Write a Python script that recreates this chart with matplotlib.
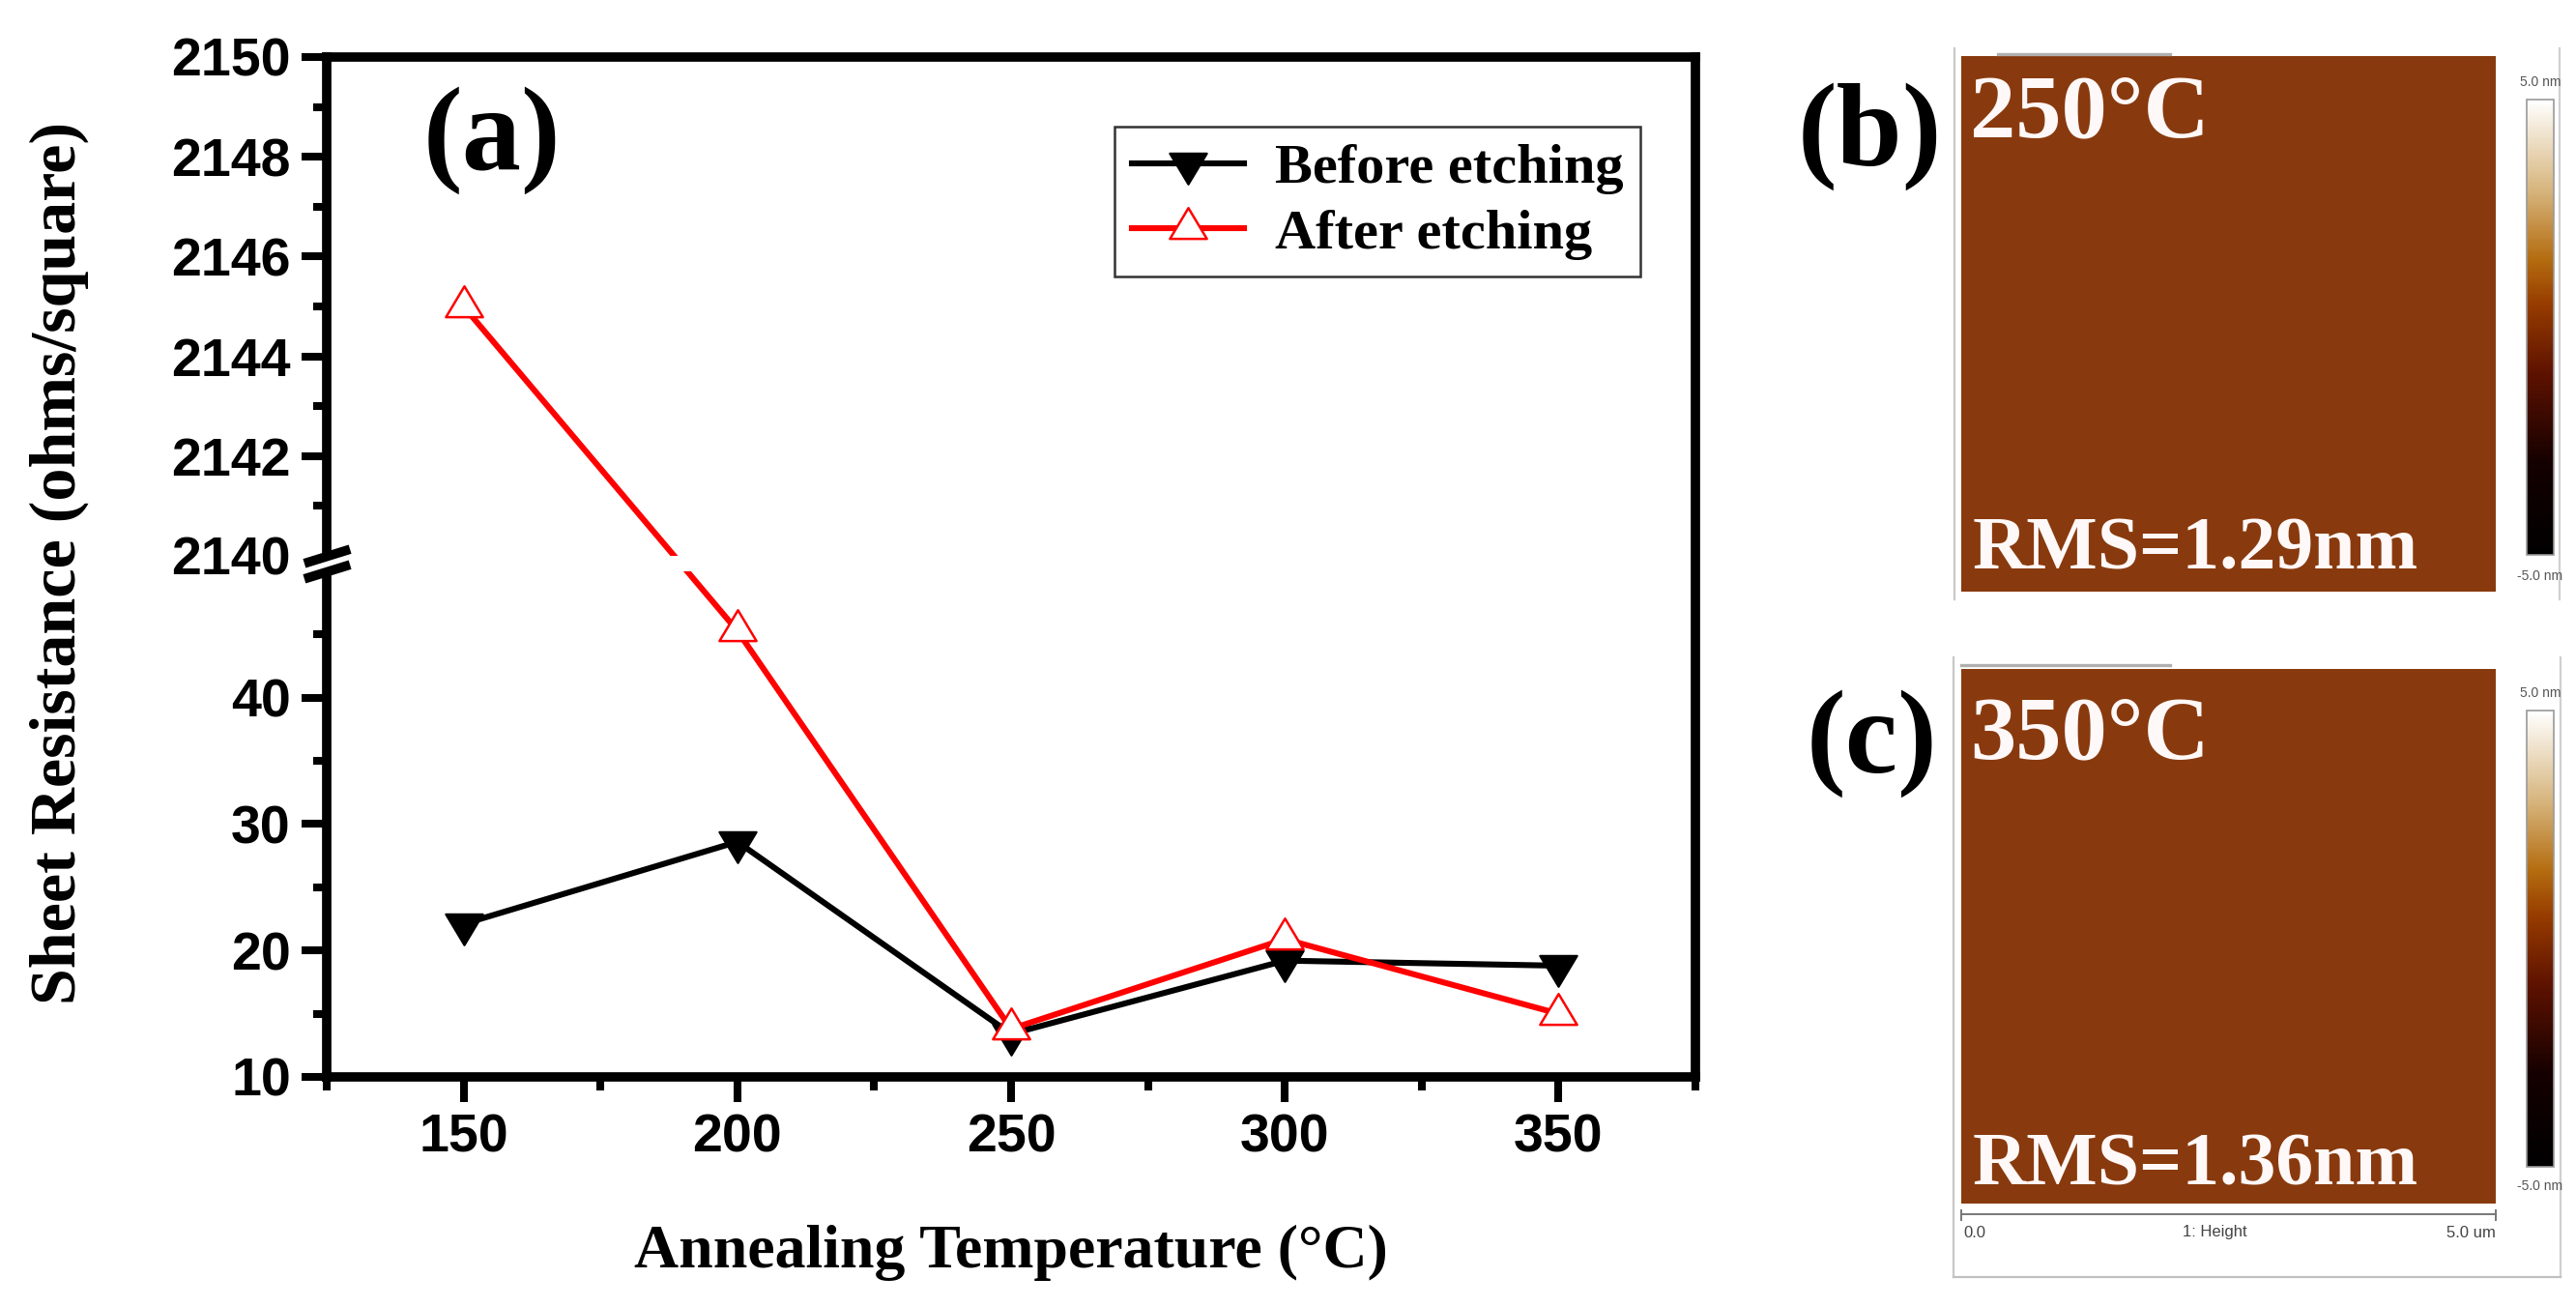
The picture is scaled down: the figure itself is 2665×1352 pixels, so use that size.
import numpy as np
import matplotlib
matplotlib.use("Agg")
import matplotlib.pyplot as plt
from matplotlib.path import Path
from matplotlib.patches import Rectangle
from matplotlib.lines import Line2D
from matplotlib.colors import LinearSegmentedColormap, Normalize
from matplotlib.cm import ScalarMappable

# ---------------- data ----------------
temperatures = [150, 200, 250, 300, 350]
before_etching = [22.1, 28.6, 13.4, 19.2, 18.8]
after_etching = [2145.0, 45.3, 13.8, 20.9, 15.0]
series_labels = ["Before etching", "After etching"]
x_ticks = [150, 200, 250, 300, 350]
x_minor = [125, 175, 225, 275, 325, 375]
y_ticks = [10, 20, 30, 40, 2140, 2142, 2144, 2146, 2148, 2150]
y_minor = [15, 25, 35, 45, 2141, 2143, 2145, 2147, 2149]
afm_panels = ["(b)", "(c)"]
afm_temps = ["250°C", "350°C"]
afm_rms = ["RMS=1.29nm", "RMS=1.36nm"]

# ---------------- figure ----------------
W, H, DPI = 2665, 1352, 200
fig = plt.figure(figsize=(W / DPI, H / DPI), dpi=DPI)
fig.patch.set_facecolor("white")

def rect(l, t, r, b):
    return [l / W, 1 - b / H, (r - l) / W, (b - t) / H]

def fx(x):
    return x / W

def fy(y):
    return 1 - y / H

SERIF = ["Liberation Serif", "DejaVu Serif"]
SANS = ["Liberation Sans", "DejaVu Sans"]

# broken y axis: 10..50 and 2140..2150 on one axes through a piecewise scale
LOW_TOP, HIGH_BOT = 50.0, 2140.0
GAP = 1.224
K = 3.946

def fwd(y):
    y = np.asarray(y, dtype=float)
    return np.where(y <= LOW_TOP, y,
                    np.where(y >= HIGH_BOT, LOW_TOP + GAP + (y - HIGH_BOT) * K,
                             LOW_TOP + (y - LOW_TOP) * GAP / (HIGH_BOT - LOW_TOP)))

def inv(t):
    t = np.asarray(t, dtype=float)
    return np.where(t <= LOW_TOP, t,
                    np.where(t >= LOW_TOP + GAP, HIGH_BOT + (t - LOW_TOP - GAP) / K,
                             LOW_TOP + (t - LOW_TOP) * (HIGH_BOT - LOW_TOP) / GAP))

ax = fig.add_axes(rect(338, 59, 1754, 1114))
ax.set_yscale("function", functions=(fwd, inv))
ax.set_xlim(125, 375)
ax.set_ylim(10, 2150)

# triangle markers centred on their centroid (like Origin)
up_tri = Path([(0, 2 / 3), (-0.6, -1 / 3), (0.6, -1 / 3), (0, 2 / 3)],
              [Path.MOVETO, Path.LINETO, Path.LINETO, Path.CLOSEPOLY])
down_tri = Path([(0, -2 / 3), (-0.6, 1 / 3), (0.6, 1 / 3), (0, -2 / 3)],
                [Path.MOVETO, Path.LINETO, Path.LINETO, Path.CLOSEPOLY])

l1, = ax.plot(temperatures, before_etching, color="black", lw=2.2,
              marker=down_tri, ms=15.3, mfc="black", mec="black", mew=0.8,
              zorder=2, label=series_labels[0])
l2, = ax.plot(temperatures, after_etching, color="#ff0000", lw=2.2,
              marker=up_tri, ms=15.3, mfc="white", mec="#ff0000", mew=0.9,
              zorder=2.1, label=series_labels[1])

# white band through the break
ax.axhspan(LOW_TOP, HIGH_BOT, color="white", zorder=2.3, lw=0)

for s in ax.spines.values():
    s.set_linewidth(3.5)
    s.set_zorder(2.5)

ax.set_xticks(x_ticks)
ax.set_xticks(x_minor, minor=True)
ax.set_yticks(y_ticks)
ax.set_yticks(y_minor, minor=True)
ax.set_yticklabels([str(v) for v in y_ticks])
ax.tick_params(axis="both", which="major", direction="out", length=9.4, width=2.9,
               pad=4.0, labelsize=20, top=False, right=False)
ax.tick_params(axis="both", which="minor", direction="out", length=5.0, width=2.9,
               top=False, right=False)
for lab in ax.get_xticklabels() + ax.get_yticklabels():
    lab.set_family(SANS)
    lab.set_fontweight("bold")
# hide tick line at 2140 (break marks there)
for t in ax.yaxis.get_major_ticks():
    if abs(t.get_loc() - 2140) < 1e-6:
        t.tick1line.set_visible(False)

# gap in left spine + break marks
ax.add_patch(Rectangle((-0.02, LOW_TOP), 0.035, HIGH_BOT - LOW_TOP,
                       transform=ax.get_yaxis_transform(), facecolor="white",
                       edgecolor="none", zorder=3, clip_on=False))
slash = Path([(-1, -0.31), (1, 0.31)], [Path.MOVETO, Path.LINETO])
ax.plot([0, 0], [HIGH_BOT, LOW_TOP], transform=ax.get_yaxis_transform(),
        linestyle="none", marker=slash, ms=17, mec="black", mew=3.5,
        clip_on=False, zorder=4)

# panel label and axis titles
fig.text(fx(509), fy(145), "(a)", family=SERIF, fontweight="bold", fontsize=44,
         ha="center", va="center")
fig.text(fx(61), fy(582), "Sheet Resistance (ohms/square)", family=SERIF,
         fontweight="bold", fontsize=24.5, rotation=90, ha="center", va="center")
fig.text(fx(1046), fy(1296), "Annealing Temperature (°C)", family=SERIF,
         fontweight="bold", fontsize=23, ha="center", va="center")

leg = ax.legend(handles=[l1, l2], loc="upper left",
                bbox_to_anchor=(fx(1153), fy(131)), bbox_transform=fig.transFigure,
                prop={"family": SERIF, "weight": "bold", "size": 21},
                frameon=True, fancybox=False, borderaxespad=0, borderpad=0.3,
                handlelength=2.0, handletextpad=0.55, labelspacing=0.25,
                numpoints=1)
leg.get_frame().set_edgecolor("black")
leg.get_frame().set_linewidth(0.9)

# ---------------- AFM panels ----------------
afm_cmap = LinearSegmentedColormap.from_list(
    "afm", [(0.0, "#000000"), (0.2, "#140000"), (0.4, "#5e1200"),
            (0.55, "#963c00"), (0.65, "#b46c10"), (0.8, "#d6b47c"), (1.0, "#ffffff")])
afm_color = "#883a0e"

panels = [
    dict(img=(2029, 58, 2582, 612), cb=(2614, 103, 2642, 574), lab=(1934, 141),
         top_lbl=85, bot_lbl=596, temp_base=141, rms_base=589, frame=(2022, 50, 2648, 620),
         bar=(2067, 2245, 56)),
    dict(img=(2029, 692, 2582, 1245), cb=(2614, 735, 2642, 1207), lab=(1937, 769),
         top_lbl=717, bot_lbl=1227, temp_base=784, rms_base=1225, frame=(2021, 680, 2649, 1321),
         bar=(2029, 2245, 688)),
]

for i, p in enumerate(panels):
    l, t, r, b = p["frame"]
    fig.add_artist(Line2D([fx(l), fx(l)], [fy(t), fy(b)], color="#c8c8c8", lw=0.8))
    fig.add_artist(Line2D([fx(r), fx(r)], [fy(t), fy(b)], color="#d0d0d0", lw=0.8))
    if i == 1:
        fig.add_artist(Line2D([fx(l), fx(r)], [fy(b), fy(b)], color="#c0c0c0", lw=0.8))
    bx0, bx1, by = p["bar"]
    fig.add_artist(Line2D([fx(bx0), fx(bx1)], [fy(by), fy(by)], color="#b0b0b0", lw=1.2))
    ia = fig.add_axes(rect(*p["img"]))
    ia.set_facecolor(afm_color)
    ia.set_xticks([])
    ia.set_yticks([])
    for s in ia.spines.values():
        s.set_visible(False)
    cax = fig.add_axes(rect(*p["cb"]))
    cb = fig.colorbar(ScalarMappable(norm=Normalize(-5, 5), cmap=afm_cmap), cax=cax)
    cb.set_ticks([])
    cb.outline.set_edgecolor("#9a9a9a")
    cb.outline.set_linewidth(0.6)
    cx = (p["cb"][0] + p["cb"][2]) / 2
    fig.text(fx(cx), fy(p["top_lbl"]), "5.0 nm", fontsize=5, color="#555555",
             ha="center", va="center", family=SANS)
    fig.text(fx(cx), fy(p["bot_lbl"]), "-5.0 nm", fontsize=5, color="#555555",
             ha="center", va="center", family=SANS)
    fig.text(fx(p["lab"][0]), fy(p["lab"][1]), afm_panels[i], family=SERIF,
             fontweight="bold", fontsize=44, ha="center", va="center")
    fig.text(fx(2038), fy(p["temp_base"]), afm_temps[i], family=SERIF,
             fontweight="bold", fontsize=34, color="#fff8f8", ha="left", va="baseline")
    fig.text(fx(2041), fy(p["rms_base"]), afm_rms[i], family=SERIF,
             fontweight="bold", fontsize=28, color="#fff8f8", ha="left", va="baseline")

# scale bar under panel (c)
fig.add_artist(Line2D([fx(2029), fx(2582)], [fy(1256), fy(1256)], color="#777777", lw=0.7))
for xx in (2029, 2582):
    fig.add_artist(Line2D([fx(xx), fx(xx)], [fy(1252), fy(1262)], color="#777777", lw=0.7))
fig.text(fx(2031), fy(1275), "0.0", fontsize=6, color="#444444", ha="left", va="center", family=SANS)
fig.text(fx(2291), fy(1275), "1: Height", fontsize=6, color="#444444", ha="center", va="center", family=SANS)
fig.text(fx(2582), fy(1275), "5.0 um", fontsize=6, color="#444444", ha="right", va="center", family=SANS)

fig.savefig("out.png", dpi=DPI, facecolor="white")
